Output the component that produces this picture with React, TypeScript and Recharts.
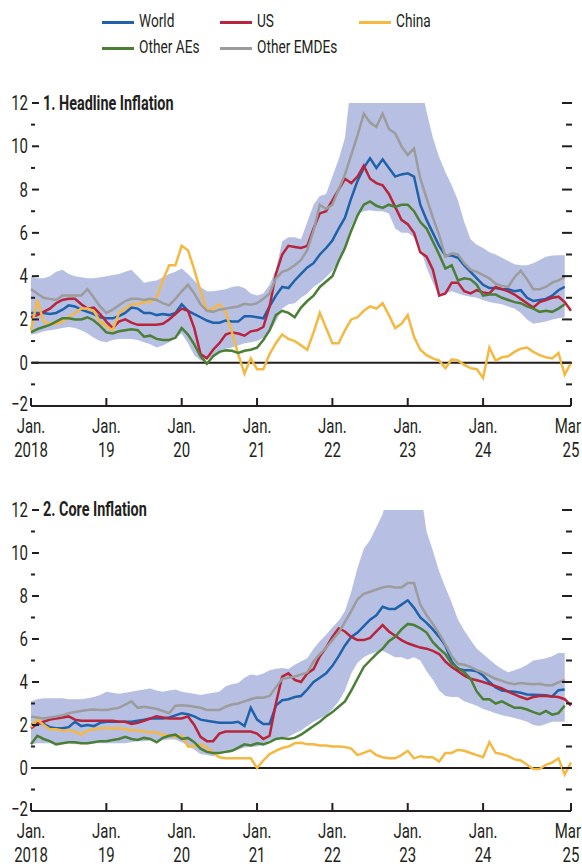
import { ComposedChart, Line, Area, XAxis, YAxis, ReferenceLine } from 'recharts';

const FONT = "Roboto, 'Liberation Sans', sans-serif";
const INK = '#231f20';
const BAND = '#b7c0e2';
const SQUEEZE = 0.75; // the original uses a condensed face

// months Jan 2018 .. Mar 2025 (index 0..86)
const MONTHS = 87;
const xTicks = [0, 12, 24, 36, 48, 60, 72, 86];
const xTickTop = ['Jan.', 'Jan.', 'Jan.', 'Jan.', 'Jan.', 'Jan.', 'Jan.', 'Mar'];
const xTickBottom = ['2018', '19', '20', '21', '22', '23', '24', '25'];
const yTicks = [-2, -1, 0, 1, 2, 3, 4, 5, 6, 7, 8, 9, 10, 11, 12];

const seriesKeys = ['world', 'us', 'china', 'aes', 'emdes'];
const seriesNames = ['World', 'US', 'China', 'Other AEs', 'Other EMDEs'];
const seriesColors = ['#1f62ab', '#b8243c', '#f4b843', '#4b7f36', '#9c9c9c'];

// ---- Panel 1: headline inflation ----
const hWorld = [
  2.3, 2.3, 2.3, 2.25, 2.3, 2.45, 2.65, 2.6, 2.45, 2.35, 2.25, 2.1, 2.05, 2.05, 2.15, 2.3, 2.55, 2.5, 2.3, 2.3,
  2.2, 2.25, 2.2, 2.3, 2.7, 2.4, 2.25, 2.1, 1.95, 1.85, 1.85, 1.95, 1.9, 1.9, 2.15, 2.15, 2.1, 2.05, 2.6, 3.1,
  3.5, 3.45, 3.8, 4.1, 4.4, 4.6, 5.0, 5.3, 5.65, 6.2, 6.7, 7.6, 8.4, 9.0, 9.45, 9.0, 9.4, 9.0, 8.6, 8.7,
  8.75, 8.6, 7.3, 6.6, 6.0, 5.4, 4.95, 4.95, 4.85, 4.5, 4.2, 3.9, 3.6, 3.45, 3.45, 3.4, 3.4, 3.3, 3.35, 3.0,
  2.85, 2.9, 2.95, 3.1, 3.35, 3.5, null,
];
const hUS = [
  2.1, 2.2, 2.35, 2.5, 2.75, 2.9, 2.95, 2.95, 2.7, 2.5, 2.55, 2.25, 1.9, 1.6, 1.9, 2.0, 1.85, 1.75, 1.75, 1.75,
  1.75, 1.8, 2.0, 2.25, 2.5, 2.4, 1.6, 0.4, 0.2, 0.6, 0.9, 1.3, 1.4, 1.35, 1.25, 1.45, 1.5, 1.65, 2.6, 4.1,
  5.0, 5.4, 5.35, 5.3, 5.4, 6.2, 6.9, 7.0, 7.5, 8.0, 8.5, 8.3, 8.6, 9.1, 8.5, 8.3, 8.2, 7.8, 7.2, 6.6,
  6.4, 6.0, 5.1, 4.9, 4.3, 3.1, 3.2, 3.7, 3.7, 3.3, 3.2, 3.35, 3.25, 3.2, 3.5, 3.4, 3.3, 3.15, 2.95, 2.75,
  2.55, 2.8, 2.9, 3.0, 3.05, 2.8, 2.4,
];
const hChina = [
  1.5, 2.9, 1.9, 1.8, 1.8, 1.9, 2.1, 2.3, 2.5, 2.5, 2.4, 1.9, 1.7, 1.5, 2.3, 2.5, 2.7, 2.7, 2.8, 2.8,
  3.0, 3.8, 4.5, 4.5, 5.4, 5.2, 4.3, 3.3, 2.4, 2.5, 2.7, 2.35, 1.4, 0.4, -0.5, 0.2, -0.3, -0.3, 0.4, 0.9,
  1.3, 1.1, 1.0, 0.8, 0.6, 1.4, 2.3, 1.6, 0.9, 0.9, 1.5, 2.0, 2.1, 2.4, 2.6, 2.5, 2.75, 2.2, 1.6, 1.8,
  2.2, 1.2, 0.6, 0.35, 0.2, 0.1, -0.25, 0.15, 0.1, -0.1, -0.25, -0.3, -0.7, 0.7, 0.1, 0.25, 0.3, 0.5, 0.65, 0.7,
  0.5, 0.35, 0.25, 0.2, 0.45, -0.55, 0.0,
];
const hAEs = [
  1.4, 1.55, 1.65, 1.75, 1.9, 2.05, 2.05, 2.0, 2.0, 2.1, 1.95, 1.7, 1.4, 1.35, 1.45, 1.5, 1.55, 1.5, 1.2, 1.25,
  1.1, 1.05, 1.05, 1.15, 1.6, 1.3, 0.85, 0.3, -0.05, 0.3, 0.5, 0.57, 0.55, 0.45, 0.55, 0.6, 0.7, 1.05, 1.5, 2.2,
  2.4, 2.3, 2.1, 2.55, 2.85, 3.1, 3.5, 3.75, 4.0, 4.7, 5.3, 6.1, 6.8, 7.3, 7.45, 7.25, 7.15, 7.3, 7.2, 7.3,
  7.3, 7.0, 6.5, 6.2, 5.6, 5.0, 4.35, 4.5, 3.8, 3.9, 3.85, 3.6, 3.1, 3.15, 3.15, 3.0, 2.9, 2.8, 2.75, 2.6,
  2.5, 2.35, 2.4, 2.35, 2.5, 2.7, null,
];
const hEMDEs = [
  3.4, 3.2, 3.0, 2.95, 2.9, 3.1, 3.1, 3.1, 3.1, 3.4, 3.0, 2.6, 2.3, 2.45, 2.65, 2.85, 2.95, 2.95, 2.9, 2.95,
  2.9, 2.75, 2.65, 2.95, 3.3, 3.6, 3.2, 2.7, 2.4, 2.35, 2.45, 2.5, 2.55, 2.6, 2.72, 2.68, 2.75, 2.95, 3.2, 3.9,
  4.2, 4.3, 4.5, 4.75, 5.2, 6.1, 7.3, 7.1, 7.3, 8.0, 8.7, 9.6, 10.5, 11.5, 11.1, 10.9, 11.5, 10.8, 10.6, 10.0,
  9.6, 9.9, 8.5, 7.6, 6.7, 5.9, 4.9, 5.05, 5.0, 4.6, 4.3, 4.2, 4.05, 3.9, 3.65, 3.55, 3.5, 3.95, 4.25, 3.85,
  3.4, 3.4, 3.5, 3.7, 3.8, 3.95, null,
];
// interquartile range band (values above 12 run off the top of the panel)
const hLow = [
  1.3, 1.35, 1.45, 1.5, 1.55, 1.6, 1.65, 1.6, 1.5, 1.35, 1.15, 1.0, 0.95, 1.05, 1.1, 1.1, 1.1, 1.05, 0.95, 0.85,
  0.7, 0.8, 0.95, 1.15, 1.35, 0.9, 0.35, 0.1, 0.15, 0.35, 0.55, 0.65, 0.7, 0.8, 0.9, 0.95, 1.0, 1.15, 1.4, 1.9,
  2.5, 2.7, 2.75, 3.0, 3.2, 3.5, 3.7, 3.95, 4.25, 4.7, 5.2, 6.3, 6.9, 7.0, 7.05, 7.0, 7.0, 6.9, 6.2, 6.0,
  6.0, 5.8, 5.3, 4.4, 3.7, 3.1, 3.2, 3.3, 3.2, 3.1, 3.05, 3.0, 2.9, 2.8, 2.75, 2.7, 2.6, 2.5, 2.3, 2.0,
  1.8, 1.85, 1.9, 2.0, 2.05, 2.1, null,
];
const hHigh = [
  4.0, 3.9, 3.9, 4.0, 4.2, 4.3, 4.1, 4.0, 3.95, 3.9, 3.9, 3.95, 4.0, 4.05, 4.1, 4.2, 4.3, 4.0, 3.7, 3.75,
  3.8, 3.95, 4.1, 4.2, 4.35, 4.1, 3.8, 3.5, 3.3, 3.3, 3.35, 3.4, 3.5, 3.55, 3.45, 3.2, 3.1, 3.2, 3.6, 4.3,
  5.6, 5.8, 5.8, 5.7, 6.5, 7.3, 7.7, 7.8, 8.6, 9.4, 10.4, 13, 13, 13, 13, 13, 13, 13, 13, 13,
  13, 13, 13, 11.6, 10.4, 9.5, 8.8, 8.2, 7.5, 6.5, 5.7, 5.45, 5.3, 5.1, 5.0, 4.85, 4.7, 4.55, 4.5, 4.5,
  4.6, 4.75, 4.9, 4.95, 4.97, 4.97, null,
];

// ---- Panel 2: core inflation ----
const cWorld = [
  2.0, 2.1, 2.05, 1.9, 1.85, 1.85, 1.9, 2.15, 1.95, 2.0, 1.95, 2.1, 2.15, 2.15, 2.15, 2.15, 2.15, 2.2, 2.25, 2.3,
  2.3, 2.3, 2.35, 2.45, 2.55, 2.5, 2.4, 2.25, 2.2, 2.15, 2.1, 2.1, 2.1, 2.15, 1.95, 2.8, 2.25, 2.05, 2.05, 2.9,
  3.15, 3.2, 3.3, 3.35, 3.65, 4.0, 4.2, 4.4, 4.75, 5.2, 5.7, 6.1, 6.3, 6.6, 6.9, 7.1, 7.5, 7.4, 7.4, 7.6,
  7.8, 7.45, 7.0, 6.75, 6.45, 6.1, 5.7, 4.95, 4.6, 4.55, 4.55, 4.5, 4.3, 4.0, 3.75, 3.6, 3.57, 3.55, 3.5, 3.42,
  3.41, 3.4, 3.38, 3.33, 3.62, 3.65, null,
];
const cUS = [
  1.85, 2.05, 2.15, 2.25, 2.3, 2.35, 2.4, 2.25, 2.2, 2.2, 2.2, 2.2, 2.2, 2.2, 2.15, 2.15, 2.05, 2.1, 2.2, 2.3,
  2.4, 2.35, 2.3, 2.3, 2.3, 2.4, 2.0, 1.45, 1.25, 1.25, 1.6, 1.7, 1.7, 1.7, 1.7, 1.7, 1.6, 1.35, 1.5, 3.0,
  4.25, 4.4, 4.1, 4.0, 4.4, 4.6, 5.2, 5.6, 6.1, 6.5, 6.35, 6.1, 5.95, 5.95, 6.05, 6.35, 6.65, 6.35, 6.15, 5.95,
  5.8, 5.7, 5.6, 5.55, 5.45, 5.3, 4.95, 4.7, 4.5, 4.3, 4.15, 4.08, 4.0, 3.9, 3.8, 3.7, 3.55, 3.42, 3.3, 3.2,
  3.3, 3.35, 3.35, 3.33, 3.3, 3.2, 2.9,
];
const cChina = [
  1.9, 2.25, 2.0, 1.8, 1.8, 1.75, 1.75, 1.7, 1.55, 1.75, 1.8, 1.85, 1.85, 1.85, 1.85, 1.8, 1.75, 1.75, 1.7, 1.65,
  1.65, 1.55, 1.5, 1.45, 1.5, 1.0, 1.0, 1.1, 0.95, 0.7, 0.5, 0.45, 0.45, 0.45, 0.45, 0.45, 0.0, 0.35, 0.65, 0.8,
  0.93, 1.0, 1.15, 1.17, 1.1, 1.1, 1.05, 1.05, 1.0, 1.0, 0.98, 0.9, 0.6, 0.7, 0.82, 0.6, 0.5, 0.45, 0.45, 0.6,
  0.8, 0.45, 0.55, 0.5, 0.5, 0.3, 0.7, 0.7, 0.85, 0.8, 0.7, 0.6, 0.5, 1.2, 0.7, 0.65, 0.55, 0.4, 0.35, 0.15,
  -0.05, -0.05, 0.15, 0.25, 0.45, -0.3, 0.25,
];
const cAEs = [
  1.1, 1.5, 1.35, 1.25, 1.1, 1.15, 1.2, 1.2, 1.15, 1.15, 1.2, 1.25, 1.25, 1.3, 1.35, 1.45, 1.35, 1.3, 1.4, 1.35,
  1.2, 1.4, 1.5, 1.55, 1.35, 1.4, 1.2, 0.9, 0.75, 0.7, 0.7, 0.75, 0.8, 0.95, 1.1, 1.05, 1.15, 1.1, 1.2, 1.35,
  1.4, 1.35, 1.4, 1.55, 1.75, 1.95, 2.15, 2.4, 2.6, 2.85, 3.1, 3.6, 4.15, 4.7, 5.0, 5.3, 5.55, 5.9, 6.1, 6.45,
  6.7, 6.65, 6.5, 6.3, 5.85, 5.55, 5.3, 4.85, 4.65, 4.45, 4.15, 3.55, 3.2, 3.2, 3.0, 3.1, 2.95, 2.8, 2.8, 2.72,
  2.6, 2.5, 2.65, 2.48, 2.55, 2.9, null,
];
const cEMDEs = [
  2.4, 2.35, 2.3, 2.35, 2.4, 2.45, 2.55, 2.6, 2.65, 2.7, 2.72, 2.7, 2.7, 2.75, 2.8, 2.95, 3.1, 2.8, 2.85, 2.8,
  2.75, 2.65, 2.55, 2.9, 2.92, 2.9, 2.85, 2.8, 2.7, 2.7, 2.7, 2.85, 2.95, 3.0, 3.1, 3.2, 3.28, 3.27, 3.35, 3.75,
  4.15, 4.2, 4.25, 4.35, 4.45, 4.95, 5.3, 5.6, 5.95, 6.3, 6.8, 7.3, 7.85, 8.1, 8.2, 8.3, 8.4, 8.45, 8.4, 8.4,
  8.6, 8.6, 7.6, 7.1, 6.7, 6.25, 5.75, 5.2, 4.85, 4.8, 4.7, 4.55, 4.45, 4.3, 4.15, 4.05, 3.95, 3.9, 3.95, 3.92,
  3.9, 3.92, 3.85, 3.85, 3.98, 4.1, null,
];
const cLow = [
  1.1, 1.15, 1.15, 1.15, 1.1, 1.1, 1.15, 1.1, 1.1, 1.1, 1.15, 1.15, 1.15, 1.15, 1.15, 1.15, 1.2, 1.25, 1.25, 1.28,
  1.3, 1.3, 1.32, 1.32, 1.2, 1.05, 0.85, 0.65, 0.6, 0.55, 0.7, 0.7, 0.75, 0.85, 0.95, 0.98, 1.0, 1.1, 1.3, 1.35,
  1.4, 1.45, 1.6, 1.75, 1.95, 2.15, 2.3, 2.45, 2.75, 3.1, 3.6, 4.4, 4.9, 5.15, 5.3, 5.4, 5.45, 5.3, 5.15, 5.15,
  5.05, 5.15, 5.0, 4.5, 4.1, 3.6, 3.35, 3.3, 3.3, 3.1, 3.0, 2.9, 2.75, 2.65, 2.55, 2.45, 2.4, 2.33, 2.25, 2.15,
  2.0, 1.95, 2.05, 2.15, 2.15, 2.15, null,
];
const cHigh = [
  3.1, 3.2, 3.25, 3.25, 3.25, 3.25, 3.2, 3.2, 3.2, 3.25, 3.3, 3.4, 3.55, 3.5, 3.45, 3.5, 3.55, 3.6, 3.65, 3.7,
  3.6, 3.55, 3.6, 3.65, 3.55, 3.5, 3.45, 3.4, 3.45, 3.5, 3.55, 3.8, 3.9, 3.95, 4.2, 4.35, 4.3, 4.4, 4.55, 4.62,
  4.65, 4.6, 4.8, 4.95, 5.1, 5.55, 5.9, 6.2, 6.55, 6.85, 7.3, 8.2, 9.3, 10.2, 10.6, 11.2, 11.8, 13, 13, 13,
  13, 13, 13, 11.0, 10.1, 9.15, 8.4, 7.7, 6.9, 6.4, 5.95, 5.55, 5.3, 5.05, 4.8, 4.6, 4.45, 4.55, 4.65, 4.8,
  5.0, 5.05, 5.1, 5.2, 5.35, 5.35, null,
];

type Num = number | null;

function buildRows(series: Num[][], lo: Num[], hi: Num[]) {
  return Array.from({ length: MONTHS }, (_, i) => {
    const row: any = { i };
    seriesKeys.forEach((k, s) => {
      row[k] = series[s][i] ?? null;
    });
    row.band = lo[i] == null || hi[i] == null ? null : [lo[i], hi[i]];
    return row;
  });
}

const headlineRows = buildRows([hWorld, hUS, hChina, hAEs, hEMDEs], hLow, hHigh);
const coreRows = buildRows([cWorld, cUS, cChina, cAEs, cEMDEs], cLow, cHigh);

const fmt = (v: number) => (v < 0 ? `\u2212${-v}` : `${v}`);

// narrow svg text: scaled horizontally around its anchor point
const Narrow = ({ x, y, anchor, size, children }: any) => (
  <text
    transform={`translate(${x},${y}) scale(${SQUEEZE},1)`}
    textAnchor={anchor}
    fontSize={size}
    fill={INK}
    fontFamily={FONT}
  >
    {children}
  </text>
);

const LeftTick = (props: any) => {
  const { x, y, payload } = props;
  const v = payload.value;
  const major = v % 2 === 0;
  return (
    <g>
      {major && (
        <Narrow x={x - 3} y={y + (v === -2 ? 5 : 7)} anchor="end" size={20}>
          {fmt(v)}
        </Narrow>
      )}
      {v !== -2 && <line x1={x + (major ? 1 : 0)} x2={x + (major ? 8 : 4)} y1={y} y2={y} stroke={INK} strokeWidth={2} />}
    </g>
  );
};

const RightTick = (props: any) => {
  const { x, y, payload } = props;
  const v = payload.value;
  if (v === -2) return null;
  const major = v % 2 === 0;
  return <line x1={x - (major ? 9 : 5)} x2={x + 1} y1={y} y2={y} stroke={INK} strokeWidth={2} />;
};

const BottomTick = (props: any) => {
  const { x, y, payload } = props;
  const idx = xTicks.indexOf(payload.value);
  const last = idx === xTicks.length - 1;
  return (
    <g>
      <line x1={x} x2={x} y1={y} y2={y - 8} stroke={INK} strokeWidth={2} />
      <Narrow x={last ? x + 10 : x} y={y + 27} anchor={last ? 'end' : 'middle'} size={20}>
        {xTickTop[idx]}
      </Narrow>
      <Narrow x={x} y={y + 51} anchor="middle" size={20}>
        {xTickBottom[idx]}
      </Narrow>
    </g>
  );
};

function Panel({ rows, height, top, xAxisHeight }: { rows: any[]; height: number; top: number; xAxisHeight: number }) {
  return (
    <ComposedChart width={582} height={height} data={rows} margin={{ top, right: 0, bottom: 0, left: 0 }}>
      <XAxis
        dataKey="i"
        type="number"
        domain={[0, 86]}
        ticks={xTicks}
        interval={0}
        height={xAxisHeight}
        tickSize={0}
        tickMargin={0}
        tickLine={false}
        axisLine={{ stroke: INK, strokeWidth: 2 }}
        tick={(p: any) => <BottomTick {...p} />}
      />
      <YAxis
        yAxisId="l"
        orientation="left"
        width={31}
        type="number"
        domain={[-2, 12]}
        ticks={yTicks}
        interval={0}
        allowDataOverflow
        axisLine={false}
        tickLine={false}
        tickSize={0}
        tickMargin={0}
        tick={(p: any) => <LeftTick {...p} />}
      />
      <YAxis
        yAxisId="r"
        orientation="right"
        width={11}
        type="number"
        domain={[-2, 12]}
        ticks={yTicks}
        interval={0}
        allowDataOverflow
        axisLine={false}
        tickLine={false}
        tickSize={0}
        tickMargin={0}
        tick={(p: any) => <RightTick {...p} />}
      />
      <Area yAxisId="l" dataKey="band" stroke="none" fill={BAND} fillOpacity={1} isAnimationActive={false} />
      <ReferenceLine yAxisId="l" y={0} stroke={INK} strokeWidth={2} />
      {seriesKeys.map((k, s) => (
        <Line
          key={k}
          yAxisId="l"
          dataKey={k}
          name={seriesNames[s]}
          stroke={seriesColors[s]}
          strokeWidth={2.5}
          dot={false}
          activeDot={false}
          isAnimationActive={false}
        />
      ))}
    </ComposedChart>
  );
}

const legendRows = [
  [0, 1, 2],
  [3, 4],
];
const legendX = [102, 220, 359];
const legendY = [21, 47];

const narrowHtml = (scale: number): any => ({
  display: 'inline-block',
  whiteSpace: 'nowrap',
  transform: `scaleX(${scale})`,
  transformOrigin: 'left center',
});

export default function App() {
  return (
    <div
      style={{
        position: 'absolute',
        left: 0,
        top: 0,
        width: 582,
        height: 868,
        background: '#fff',
        fontFamily: FONT,
        color: INK,
        overflow: 'hidden',
      }}
    >
      {/* legend */}
      {legendRows.map((row, r) =>
        row.map((s, c) => (
          <div
            key={seriesKeys[s]}
            style={{ position: 'absolute', left: legendX[c], top: legendY[r] - 11, height: 22, display: 'flex', alignItems: 'center' }}
          >
            <div style={{ width: 32, height: 3, background: seriesColors[s], marginRight: 5, marginTop: 3 }} />
            <span style={{ ...narrowHtml(0.72), fontSize: 19, lineHeight: '22px' }}>{seriesNames[s]}</span>
          </div>
        ))
      )}

      <div style={{ position: 'absolute', left: 0, top: 0 }}>
        <Panel rows={headlineRows} height={468} top={103} xAxisHeight={62} />
      </div>
      <div style={{ position: 'absolute', left: 43, top: 91, fontSize: 20, fontWeight: 700, lineHeight: '24px' }}>
        <span style={narrowHtml(0.72)}>1. Headline Inflation</span>
      </div>

      <div style={{ position: 'absolute', left: 0, top: 460 }}>
        <Panel rows={coreRows} height={408} top={50} xAxisHeight={57} />
      </div>
      <div style={{ position: 'absolute', left: 43, top: 497, fontSize: 20, fontWeight: 700, lineHeight: '24px' }}>
        <span style={narrowHtml(0.72)}>2. Core Inflation</span>
      </div>
    </div>
  );
}
